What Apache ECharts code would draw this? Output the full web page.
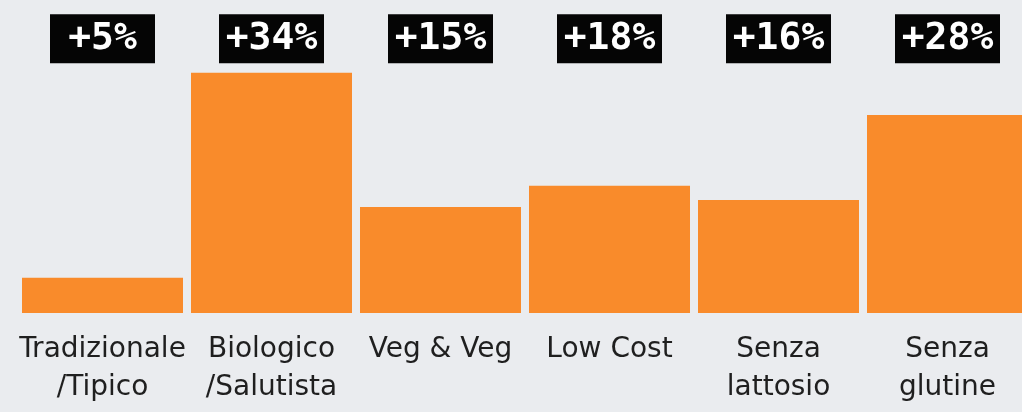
<!DOCTYPE html>
<html>
<head>
<meta charset="utf-8">
<script src="https://cdn.jsdelivr.net/npm/echarts@6/dist/echarts.min.js"></script>
<style>
html, body { margin: 0; padding: 0; background: #eaecef; }
#chart { width: 1022px; height: 412px; }
</style>
</head>
<body>
<div id="chart"></div>
<script>
// dati
var categories = ['Tradizionale\n/Tipico', 'Biologico\n/Salutista', 'Veg & Veg', 'Low Cost', 'Senza\nlattosio', 'Senza\nglutine'];
var growth = [5, 34, 15, 18, 16, 28];
var badgeLevel = 38.8; // riga delle etichette nere in alto

var chartDom = document.getElementById('chart');
var myChart = echarts.init(chartDom);
var option;

option = {
	backgroundColor: '#eaecef',
	animation: false,
	grid: {
		left: 18,
		right: -10, // l'ultima barra esce dal bordo
		top: 2,
		bottom: 99,
		outerBoundsMode: 'none',
	},
	xAxis: {
		type: 'category',
		data: categories,
		axisLine: { show: false },
		axisTick: { show: false },
		axisLabel: {
			interval: 0,
			margin: 18,
			fontSize: 28,
			lineHeight: 38,
			color: '#1f1f1f',
			fontFamily: '"DejaVu Sans", sans-serif',
		},
	},
	yAxis: {
		type: 'value',
		min: 0,
		max: 44,
		show: false,
		splitLine: { show: false },
	},
	series: [
		{
			type: 'bar',
			data: growth,
			barWidth: 161,
			itemStyle: { color: '#f98b2b' },
		},
		{
			// badge neri con la percentuale
			type: 'scatter',
			data: growth.map(function (v, i) {
				return [i, badgeLevel];
			}),
			symbol: 'rect',
			symbolSize: [105, 49],
			itemStyle: { color: '#050505', opacity: 1 },
			label: {
				show: true,
				position: 'inside',
				color: '#ffffff',
				fontSize: 38,
				fontWeight: 'bold',
				fontFamily: '"DejaVu Sans Mono", monospace',
				formatter: function (p) {
					return '+' + growth[p.dataIndex] + '%';
				},
			},
		},
	],
};
myChart.setOption(option);
</script>
</body>
</html>
